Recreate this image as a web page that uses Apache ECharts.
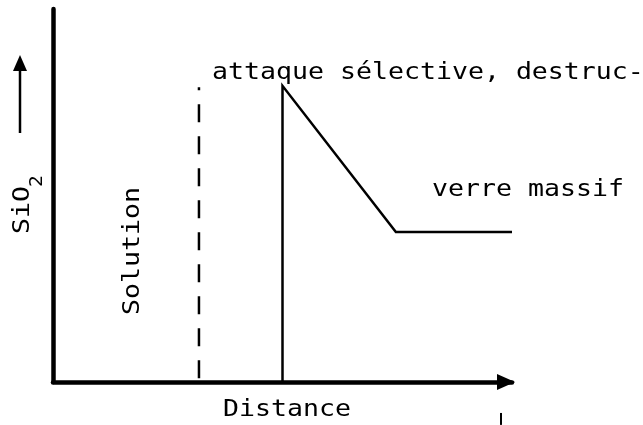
<!DOCTYPE html>
<html>
<head>
<meta charset="utf-8">
<title>SiO2 - Distance</title>
<script src="https://cdn.jsdelivr.net/npm/echarts@6/dist/echarts.min.js"></script>
<style>
  html, body { margin: 0; padding: 0; background: #fff; }
  #chart { width: 643px; height: 425px; }
</style>
</head>
<body>
<div id="chart"></div>
<script>
  // schematic units: x = distance (0-100), y = SiO2 (0-100)
  const profileX = [50, 50, 74.7, 100];
  const profileY = [0, 79.4, 40.2, 40.2];
  // solution / glass boundary (dashed)
  const boundaryX = [31.8, 31.8];
  const boundaryY = [1, 79];
  // small stray stroke under the axis end
  const strayX = [97.6, 97.6];
  const strayY = [-8.3, -11.5];

  const xName = 'Distance';
  const yName = 'SiO';
  const ySub = '2';
  const topNote = 'attaque sélective, destruc-';
  const plateauNote = 'verre massif';
  const zoneNote = 'Solution';

  const FONT = '"DejaVu Sans Mono", monospace';
  const FS = 23;
  const SX = 1.155; // stretch to the wide plotter lettering

  function pairs(xs, ys) {
    return xs.map((x, i) => [x, ys[i]]);
  }

  function label(text, x, y, opts) {
    return Object.assign({
      type: 'text',
      x: x,
      y: y,
      scaleX: SX,
      style: {
        text: text,
        fill: '#000',
        font: FS + 'px ' + FONT,
        align: 'left',
        verticalAlign: 'middle'
      },
      silent: true
    }, opts || {});
  }

  const chart = echarts.init(document.getElementById('chart'), null, { renderer: 'canvas' });

  const option = {
    animation: false,
    backgroundColor: '#fff',
    grid: {
      left: 53,
      right: 131,
      top: 9,
      bottom: 43,
      outerBoundsMode: 'none'
    },
    xAxis: {
      type: 'value',
      min: 0,
      max: 100,
      axisLine: {
        show: true,
        onZero: false,
        symbol: ['none', 'triangle'],
        symbolSize: [16, 18],
        symbolOffset: [0, -6],
        lineStyle: { color: '#000', width: 4.5 }
      },
      axisTick: { show: false },
      axisLabel: { show: false },
      splitLine: { show: false }
    },
    yAxis: {
      type: 'value',
      min: 0,
      max: 100,
      axisLine: {
        show: true,
        onZero: false,
        lineStyle: { color: '#000', width: 4.5 }
      },
      axisTick: { show: false },
      axisLabel: { show: false },
      splitLine: { show: false }
    },
    series: [
      {
        name: 'profil',
        type: 'line',
        data: pairs(profileX, profileY),
        symbol: 'none',
        clip: false,
        lineStyle: { color: '#000', width: 2.5, join: 'miter' }
      },
      {
        name: 'interface',
        type: 'line',
        data: pairs(boundaryX, boundaryY),
        symbol: 'none',
        lineStyle: { color: '#000', width: 2.5, type: [18, 14] }
      },
      {
        name: 'trait',
        type: 'line',
        data: pairs(strayX, strayY),
        symbol: 'none',
        clip: false,
        lineStyle: { color: '#000', width: 2 }
      }
    ],
    graphic: [
      label(topNote, 212, 73),
      label(plateauNote, 432, 190),
      label(xName, 223, 410),
      label(zoneNote, 133, 315, { rotation: Math.PI / 2 }),
      label(yName, 23, 234, { rotation: Math.PI / 2 }),
      label(ySub, 38, 187, {
        rotation: Math.PI / 2,
        style: {
          text: ySub,
          fill: '#000',
          font: '17px ' + FONT,
          align: 'left',
          verticalAlign: 'middle'
        }
      }),
      // arrow next to the SiO2 label
      {
        type: 'line',
        shape: { x1: 20, y1: 133, x2: 20, y2: 66 },
        style: { stroke: '#000', lineWidth: 2.5 },
        silent: true
      },
      {
        type: 'polygon',
        shape: { points: [[20, 55], [13, 71], [27, 71]] },
        style: { fill: '#000' },
        silent: true
      }
    ]
  };

  chart.setOption(option);
</script>
</body>
</html>
